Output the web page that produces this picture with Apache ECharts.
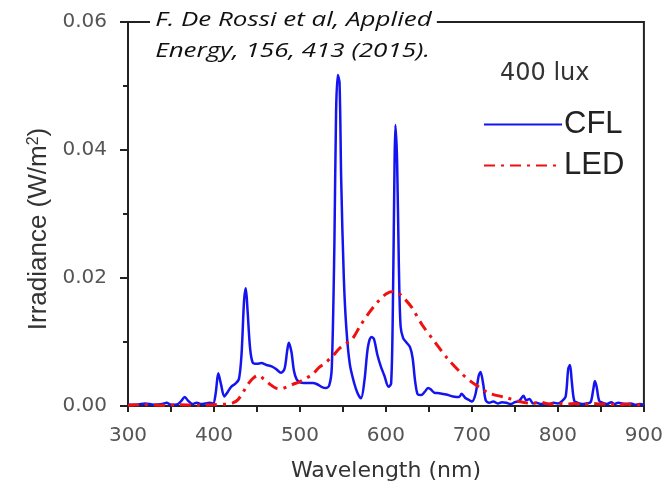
<!DOCTYPE html>
<html>
<head>
<meta charset="utf-8">
<script src="https://cdn.jsdelivr.net/npm/echarts@6/dist/echarts.min.js"></script>
<style>html,body{margin:0;padding:0;background:#fff}#c{width:666px;height:492px}</style>
</head>
<body>
<div id="c"></div>
<script>
var cflWavelength = [300,310,320,330,340,345,350,358,362,366,370,375,380,385,390,395,399,402,405,408,412,416,420,425,429,432,435,437,439,442,445,450,455,461,467,472,478,482,485,487,490,493,496,500,505,510,515,520,525,530,534,537,540,542,544,546,548,551,554,558,563,567,571,575,579,583,586,590,594,598,603,606,608,610,611,613,615,617,620,624,628,631,634,637,641,645,649,652,656,662,670,678,685,688,692,697,700,704,708,710,713,716,720,725,730,735,740,745,750,755,760,763,767,771,775,780,785,790,795,800,805,809,812,814,816,819,823,828,833,838,841,843,845,848,852,857,862,866,870,875,880,885,890,895,900];
var cflIrradiance = [0.0002,0.0002,0.0004,0.0002,0.0003,0.0005,0.0002,0.0003,0.0008,0.0014,0.0008,0.0003,0.0005,0.0003,0.0004,0.0005,0.0004,0.002,0.0051,0.0035,0.0015,0.0022,0.003,0.0035,0.0042,0.008,0.0165,0.0184,0.015,0.009,0.0068,0.0066,0.0067,0.0064,0.0062,0.0058,0.0052,0.0058,0.0085,0.0099,0.0085,0.0055,0.0042,0.0037,0.0036,0.0036,0.0036,0.0034,0.003,0.0028,0.0032,0.006,0.025,0.046,0.0517,0.0505,0.035,0.02,0.012,0.0065,0.0036,0.002,0.0012,0.004,0.0092,0.0108,0.0105,0.008,0.0062,0.0048,0.003,0.0035,0.015,0.038,0.0439,0.038,0.022,0.0125,0.0106,0.0099,0.0092,0.0075,0.0038,0.0018,0.0017,0.0022,0.0028,0.0026,0.0021,0.002,0.0018,0.0015,0.0014,0.0019,0.0013,0.0009,0.0007,0.0018,0.0048,0.0053,0.0035,0.0009,0.0005,0.0007,0.0004,0.0006,0.0005,0.0003,0.0006,0.0008,0.0016,0.0009,0.0011,0.0004,0.0005,0.0003,0.0004,0.0003,0.0005,0.0004,0.0008,0.0015,0.0058,0.0064,0.004,0.0008,0.0005,0.0003,0.0004,0.0006,0.0025,0.0039,0.003,0.0008,0.0005,0.0003,0.0006,0.0003,0.0005,0.0004,0.0003,0.0004,0.0002,0.0003,0.0002];
var ledWavelength = [300,320,340,360,380,400,415,422,428,434,440,446,452,458,465,472,478,485,492,500,508,515,522,530,538,546,554,561,570,580,590,600,608,615,622,630,642,658,671,687,699,710,720,740,755,770,780,790,800,810,820,830,840,850,860,870,880,890,900];
var ledIrradiance = [0.0001,0.0002,0.0001,0.0002,0.0001,0.0002,0.0003,0.0005,0.001,0.0022,0.0035,0.0044,0.0048,0.0042,0.0034,0.0028,0.0027,0.003,0.0034,0.0038,0.0044,0.005,0.006,0.0068,0.0078,0.009,0.0098,0.0105,0.0125,0.0145,0.0162,0.0175,0.0179,0.0176,0.0167,0.0154,0.0127,0.0098,0.0075,0.0052,0.0038,0.0028,0.002,0.0013,0.0007,0.0004,0.0006,0.0003,0.0004,0.0003,0.0004,0.0002,0.0004,0.0003,0.0003,0.0002,0.0003,0.0002,0.0002];
var xTicks = {min:300, max:900, interval:100};
var yTicks = {min:0, max:0.06, interval:0.02};
var seriesNames = ['CFL','LED'];

function zip(a,b){return a.map(function(v,i){return [v,b[i]];});}

var chart = echarts.init(document.getElementById('c'), null, {renderer:'canvas'});
var FONT = 'Liberation Sans, Arial, sans-serif';
var WIDE = '"DejaVu Sans", sans-serif';
chart.setOption({
  animation:false,
  backgroundColor:'#fff',
  grid:{left:128,right:21,top:22,bottom:86,show:true,borderColor:'#222',borderWidth:2,backgroundColor:'transparent'},
  xAxis:{type:'value',min:xTicks.min,max:xTicks.max,interval:xTicks.interval,
    name:'Wavelength (nm)',nameLocation:'middle',nameGap:54,
    nameTextStyle:{fontFamily:WIDE,fontSize:22,color:'#333'},
    axisLine:{show:true,onZero:false,lineStyle:{color:'#222',width:2}},
    axisTick:{show:true,inside:false,length:6,lineStyle:{color:'#222',width:2}},
    minorTick:{show:true,splitNumber:2,length:6,lineStyle:{color:'#222',width:2}},
    axisLabel:{fontFamily:WIDE,fontSize:20,color:'#555',margin:20},
    splitLine:{show:false}},
  yAxis:{type:'value',min:yTicks.min,max:yTicks.max,interval:yTicks.interval,
    name:'Irradiance (W/m{sup|2})',nameLocation:'middle',nameGap:76,nameRotate:90,
    nameTextStyle:{fontFamily:FONT,fontSize:26,color:'#333',padding:[0,30,0,0],rich:{sup:{fontFamily:FONT,fontSize:16,color:'#333',verticalAlign:'top',lineHeight:12,padding:[0,0,10,0]}}},
    axisLine:{show:true,lineStyle:{color:'#222',width:2}},
    axisTick:{show:true,inside:false,length:8,lineStyle:{color:'#222',width:2}},
    minorTick:{show:true,splitNumber:2,length:5,lineStyle:{color:'#222',width:2}},
    axisLabel:{fontFamily:WIDE,fontSize:20,color:'#555',margin:21,formatter:function(v){return v.toFixed(2);}},
    splitLine:{show:false}},
  legend:{orient:'vertical',left:478,top:104,itemWidth:78,itemHeight:14,itemGap:10,
    itemStyle:{opacity:0},
    data:seriesNames,textStyle:{fontFamily:FONT,fontSize:31,color:'#222',padding:[0,0,0,-3]}},
  title:{text:'400 lux',left:495,top:57,textStyle:{fontFamily:WIDE,fontSize:24,fontWeight:'normal',color:'#333'}},
  graphic:[{type:'text',x:150,y:5,scaleX:1.3,z:100,
    style:{text:'F. De Rossi et al, Applied\nEnergy, 156, 413 (2015).',font:'italic 20px "Open Sans", sans-serif',fill:'#111',lineHeight:31,backgroundColor:'#fff',padding:[0,4,0,4]}}],
  series:[
    {name:seriesNames[0],type:'line',data:zip(cflWavelength,cflIrradiance),showSymbol:false,symbol:'none',smooth:0.3,
      lineStyle:{color:'#1414f0',width:2.5},itemStyle:{color:'#1414f0'},z:3},
    {name:seriesNames[1],type:'line',data:zip(ledWavelength,ledIrradiance),showSymbol:false,symbol:'none',smooth:0.3,
      lineStyle:{color:'#f01010',width:3,type:[11,6,3,6]},itemStyle:{color:'#f01010'},z:4}
  ]
});
</script>
</body>
</html>
